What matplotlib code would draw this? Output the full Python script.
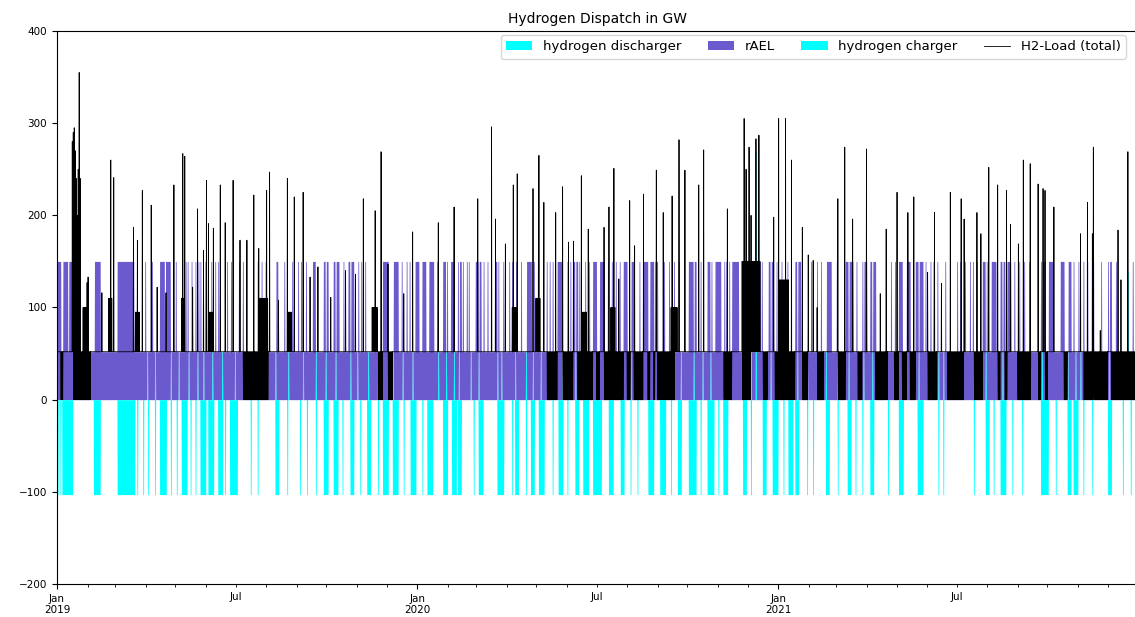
#!/usr/bin/env python3
"""Hydrogen dispatch in GW, 2019-2021 (stacked area + total load line)."""

import matplotlib

matplotlib.use("Agg")
import matplotlib.pyplot as plt
from matplotlib.lines import Line2D
from matplotlib.patches import Patch
import numpy as np
import pandas as pd

START = "2019-01-01"
N_DAYS = 1096
STEPS_PER_DAY = 4  # 6-hourly samples

CYAN = "#00ffff"
SLATE = "#6a5acd"

# levels (GW)
RAEL_BASE = 52.0
RAEL_FULL = 150.0
CHARGER_FULL = -103.0

# all day numbers below are days since 2019-01-01, ranges are inclusive
RAEL_FULL_DAYS = [
    (0, 3), (6, 10), (12, 16), (38, 43), (61, 77), (104, 108), (110, 114),
    (221, 223), (259, 262), (270, 274), (280, 285), (295, 300), (330, 335),
    (340, 345), (363, 366), (370, 373), (377, 381), (391, 395), (399, 402),
    (406, 409), (424, 429), (444, 447), (475, 480), (507, 512), (523, 527),
    (543, 546), (550, 554), (574, 577), (581, 584), (594, 598), (601, 604),
    (606, 608), (640, 647), (659, 663), (667, 672), (684, 690), (721, 725),
    (748, 753), (779, 784), (799, 806), (816, 820), (824, 829), (853, 856),
    (861, 864), (870, 877), (938, 942), (947, 951), (956, 960), (963, 966),
    (997, 1001), (1005, 1009), (1017, 1020), (1024, 1027), (1065, 1068),
]
# single days with the electrolyser at full output (thin light bars)
RAEL_SHORT_DAYS = [
    89, 96, 120, 130, 132, 136, 140, 143, 145, 150, 156, 160, 163, 167, 172,
    176, 180, 184, 188, 203, 207, 211, 230, 238, 244, 247, 252, 290, 305, 308,
    312, 315, 322, 349, 354, 357, 385, 411, 415, 417, 429, 432, 436, 452, 458,
    461, 465, 470, 483, 487, 490, 496, 499, 502, 517, 520, 529, 535, 539, 558,
    562, 566, 570, 590, 615, 620, 625, 630, 652, 676, 678, 681, 700, 712, 714,
    729, 734, 740, 743, 760, 764, 770, 774, 790, 810, 840, 845, 849, 880, 885,
    888, 892, 900, 912, 915, 920, 925, 928, 932, 970, 975, 980, 985, 1030,
    1035, 1040, 1044, 1050, 1058, 1073, 1080, 1090,
]
CHARGER_DAYS = [
    (1, 1), (3, 3), (5, 15), (37, 43), (61, 78), (81, 81), (87, 87), (92, 92),
    (99, 99), (104, 110), (115, 115), (121, 121), (126, 131), (135, 135),
    (140, 140), (145, 150), (153, 158), (163, 167), (170, 170), (175, 182),
    (196, 196), (203, 203), (221, 224), (233, 233), (246, 246), (253, 253),
    (262, 262), (270, 274), (280, 284), (289, 289), (297, 300), (307, 307),
    (314, 317), (325, 325), (330, 335), (340, 345), (351, 351), (358, 363),
    (370, 370), (375, 380), (391, 395), (400, 404), (406, 409), (422, 422),
    (427, 431), (446, 452), (461, 461), (464, 467), (475, 475), (480, 483),
    (488, 493), (502, 502), (508, 512), (517, 517), (525, 528), (533, 538),
    (543, 551), (559, 563), (571, 574), (581, 581), (588, 588), (599, 604),
    (611, 616), (622, 622), (629, 632), (640, 647), (652, 652), (659, 665),
    (670, 670), (675, 679), (695, 698), (703, 703), (715, 718), (725, 730),
    (736, 736), (741, 745), (748, 751), (760, 760), (766, 766), (779, 782),
    (791, 791), (801, 804), (809, 809), (816, 816), (824, 827), (842, 842),
    (853, 857), (872, 877), (893, 893), (898, 898), (929, 929), (941, 944),
    (949, 949), (956, 961), (968, 968), (978, 978), (997, 1004), (1012, 1012),
    (1024, 1027), (1030, 1034), (1040, 1040), (1049, 1049), (1065, 1068),
    (1080, 1080), (1088, 1088),
]
DISCHARGER_DAYS = [
    (18, 240), (21, 250), (33, 50), (91, 52), (99, 52), (115, 52), (123, 52),
    (133, 52), (142, 52), (148, 52), (157, 52), (167, 52), (180, 52),
    (221, 52), (234, 52), (249, 52), (262, 52), (272, 52), (282, 52),
    (297, 52), (304, 52), (315, 52), (325, 52), (340, 52), (350, 52),
    (360, 52), (386, 52), (394, 52), (402, 52), (407, 52), (419, 52),
    (427, 52), (446, 52), (450, 52), (464, 52), (475, 52), (482, 52),
    (490, 52), (503, 52), (512, 52), (525, 52), (538, 52), (559, 52),
    (571, 52), (581, 52), (599, 52), (613, 52), (632, 52), (645, 52),
    (654, 52), (662, 52), (675, 52), (698, 250), (703, 200), (708, 270),
    (723, 52), (728, 52), (731, 52), (736, 52), (743, 52), (750, 52),
    (760, 52), (779, 52), (791, 52), (802, 52), (817, 52), (826, 52),
    (840, 52), (857, 52), (873, 52), (893, 52), (898, 52), (941, 52),
    (958, 52), (978, 52), (998, 52), (1003, 52), (1024, 52), (1032, 52),
    (1037, 52), (1049, 180), (1066, 52), (1080, 52), (1085, 140),
]
# periods where the load swings down to zero every day
LOAD_IDLE_DAYS = [
    (0, 5), (12, 33), (189, 213), (326, 329), (336, 339), (497, 625),
    (676, 686), (695, 702), (716, 719), (728, 1095),
]
# days inside idle periods where the load stays on the rAEL base
LOAD_STEADY_DAYS = [
    (748, 755), (761, 770), (777, 791), (804, 811), (821, 827), (842, 848),
    (875, 882), (892, 902), (919, 929), (943, 953), (963, 973), (987, 994),
    (1004, 1017), (1027, 1040), (1050, 1050),
]
# busy periods: typical daily maximum of the load (GW)
LOAD_BUSY_DAYS = [
    (26, 31, 100), (52, 55, 110), (79, 83, 95), (126, 129, 110),
    (153, 157, 95), (205, 213, 110), (233, 237, 95), (319, 324, 100),
    (461, 465, 100), (485, 489, 110), (531, 536, 95), (561, 565, 100),
    (622, 628, 100), (694, 712, 150), (731, 741, 130),
]
# single-day load peaks (GW)
LOAD_PEAKS = [
    (15, 280), (16, 290), (17, 295), (18, 270), (19, 240), (20, 200),
    (22, 355), (23, 240), (30, 127), (31, 133), (45, 116), (54, 260),
    (57, 241), (77, 187), (81, 173), (86, 227), (95, 211), (101, 122),
    (110, 116), (118, 233), (127, 267), (129, 264), (137, 122), (142, 207),
    (148, 162), (151, 238), (153, 191), (158, 186), (165, 233), (170, 192),
    (178, 238), (185, 173), (192, 173), (199, 222), (204, 164), (212, 227),
    (215, 247), (224, 108), (233, 240), (240, 220), (249, 225), (256, 133),
    (264, 144), (277, 111), (292, 140), (302, 136), (310, 218), (322, 205),
    (328, 269), (335, 147), (351, 115), (360, 182), (386, 192), (402, 209),
    (426, 218), (440, 296), (444, 196), (454, 169), (462, 233), (466, 245),
    (482, 229), (488, 265), (493, 214), (505, 203), (512, 231), (518, 171),
    (523, 172), (531, 243), (538, 185), (554, 187), (559, 209), (564, 251),
    (569, 131), (580, 216), (585, 167), (594, 223), (607, 249), (614, 203),
    (623, 221), (630, 282), (636, 249), (650, 233), (655, 271), (679, 207),
    (696, 305), (701, 274), (708, 283), (711, 287), (726, 198), (731, 305),
    (738, 305), (744, 260), (755, 187), (761, 157), (766, 151), (770, 100),
    (791, 218), (798, 274), (806, 196), (820, 272), (834, 115), (840, 185),
    (851, 225), (862, 203), (868, 220), (882, 138), (889, 203), (896, 126),
    (905, 225), (916, 218), (919, 196), (932, 203), (936, 180), (944, 252),
    (953, 233), (962, 227), (966, 190), (974, 169), (979, 260), (986, 256),
    (994, 234), (999, 229), (1001, 227), (1010, 209), (1037, 180),
    (1044, 214), (1050, 274), (1057, 75), (1075, 184), (1078, 130),
    (1085, 269),
]


def build_frame():
    k = STEPS_PER_DAY
    rael_day = np.full(N_DAYS, RAEL_BASE)
    for s, e in RAEL_FULL_DAYS:
        rael_day[s:e + 1] = RAEL_FULL
    for d in RAEL_SHORT_DAYS:
        rael_day[d] = RAEL_FULL
    charger_day = np.zeros(N_DAYS)
    for s, e in CHARGER_DAYS:
        charger_day[s:e + 1] = CHARGER_FULL

    low = np.full(N_DAYS, RAEL_BASE)
    high = np.full(N_DAYS, RAEL_BASE)
    for s, e in LOAD_IDLE_DAYS:
        low[s:e + 1] = 0.0
    for s, e in LOAD_STEADY_DAYS + RAEL_FULL_DAYS:
        low[s:e + 1] = RAEL_BASE
    for s, e, v in LOAD_BUSY_DAYS:
        high[s:e + 1] = np.maximum(high[s:e + 1], v)
    for d, v in LOAD_PEAKS:
        high[d] = max(high[d], v)

    rael = np.repeat(rael_day, k)
    charger = np.repeat(charger_day, k)
    discharger = np.zeros(N_DAYS * k)
    for d, v in DISCHARGER_DAYS:
        discharger[d * k:d * k + 4] = v
        rael[d * k:d * k + 4] = 0.0
        high[d] = max(high[d], v)

    load = np.repeat(low, k)
    load[2::k] = high

    index = pd.date_range(START, periods=N_DAYS * k, freq="6h")
    return pd.DataFrame(
        {
            "hydrogen discharger": discharger,
            "rAEL": rael,
            "hydrogen charger": charger,
            "H2-Load (total)": load,
        },
        index=index,
    )


def main():
    plt.rcParams["path.simplify"] = False
    df = build_frame()
    fig = plt.figure(figsize=(11.35, 6.17), dpi=100)
    ax = fig.add_axes([57 / 1135, 33 / 617, 1081 / 1135, 553 / 617])

    df[["hydrogen discharger", "rAEL", "hydrogen charger"]].plot.area(
        ax=ax, stacked=True, color=[CYAN, SLATE, CYAN], linewidth=0,
        alpha=1.0, legend=False,
    )
    df["H2-Load (total)"].plot(ax=ax, color="black", linewidth=0.6, legend=False)

    ax.set_ylim(-200, 400)
    ax.set_xlabel("")
    ax.set_title("Hydrogen Dispatch in GW", fontsize=10)
    ax.tick_params(axis="both", which="both", labelsize=7.5)

    handles = [
        Patch(facecolor=CYAN),
        Patch(facecolor=SLATE),
        Patch(facecolor=CYAN),
        Line2D([], [], color="black", linewidth=0.6),
    ]
    labels = ["hydrogen discharger", "rAEL", "hydrogen charger", "H2-Load (total)"]
    ax.legend(handles, labels, loc="upper right", ncol=4, fontsize=9.5,
              bbox_to_anchor=(0.9925, 1.0), borderaxespad=0.3)

    fig.savefig("out.png", dpi=100)
    plt.close(fig)


if __name__ == "__main__":
    main()
